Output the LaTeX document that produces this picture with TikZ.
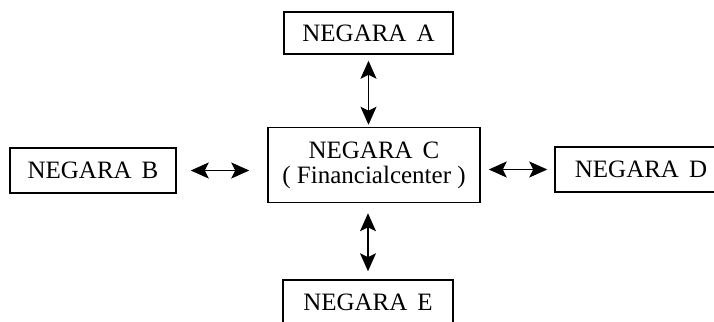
\documentclass[tikz,border=0pt]{standalone}
\usepackage{fontspec}
\setmainfont{Liberation Serif}
\usetikzlibrary{arrows.meta}
\begin{document}
\begin{tikzpicture}[x=0.5pt,y=-0.5pt,
  box/.style={draw,line width=0.75pt,inner sep=0pt,align=center,
    font=\fontsize{12.5}{12.5}\selectfont},
  link/.style={line width=0.7pt,{Stealth[length=9pt,width=8pt,inset=2pt]}-{Stealth[length=9pt,width=8pt,inset=2pt]}}]
\useasboundingbox (0,0) rectangle (714,322);
\clip (0,0) rectangle (714,322);
\node[box,minimum width=84.5pt,minimum height=21pt] (A) at (368.5,33) {NEGARA\hspace{0.4em}A};
\node[box,minimum width=83pt,minimum height=22.5pt] (B) at (93,170.5) {NEGARA\hspace{0.4em}B};
\node[box,minimum width=106pt,minimum height=37.5pt] (C) at (374,165) {NEGARA\hspace{0.4em}C\\( Financialcenter )};
\node[box,minimum width=86pt,minimum height=22.5pt] (D) at (641,169.5) {NEGARA\hspace{0.4em}D};
\node[box,minimum width=85pt,minimum height=22pt] (E) at (368,302) {NEGARA\hspace{0.4em}E};
\draw[link,shorten <=3pt,shorten >=1pt] (A.south) -- (C.north -| A.south);
\draw[link,shorten <=7pt,shorten >=9pt] (B.east) -- (C.west |- B.east);
\draw[link,shorten <=4pt,shorten >=3.5pt] (C.east |- D.west) -- (D.west);
\draw[link,shorten <=5pt,shorten >=4pt] (C.south -| E.north) -- (E.north);
\end{tikzpicture}
\end{document}
